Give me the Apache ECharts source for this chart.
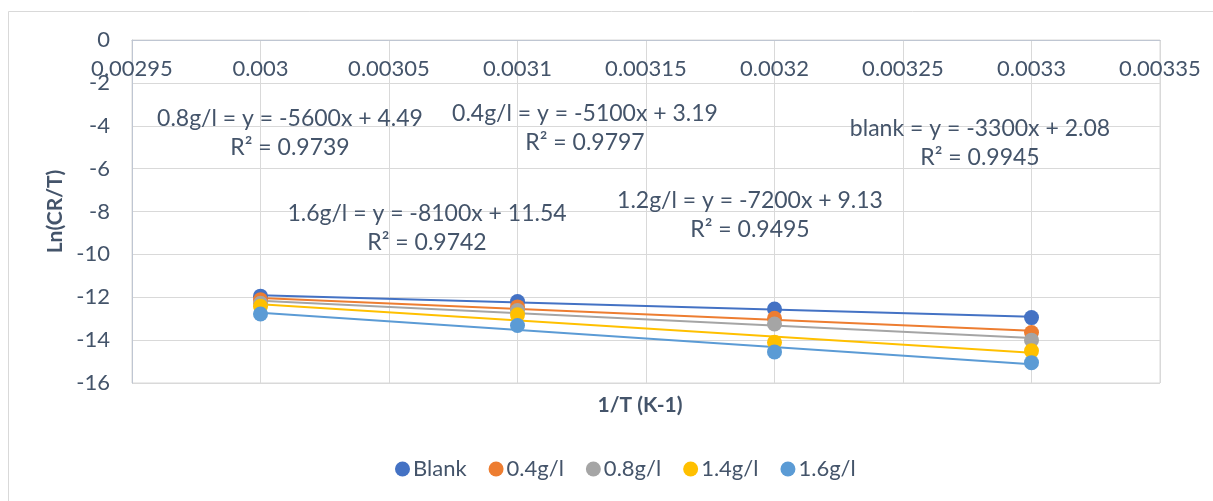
<!DOCTYPE html>
<html><head><meta charset="utf-8">
<script src="https://cdn.jsdelivr.net/npm/echarts@6/dist/echarts.min.js"></script>
<style>html,body{margin:0;padding:0;background:#fff}#c{width:1213px;height:501px}</style>
</head><body><div id="c"></div>
<script>
const xValues = [0.003, 0.0031, 0.0032, 0.0033];
const seriesNames = ['Blank', '0.4g/l', '0.8g/l', '1.4g/l', '1.6g/l'];
const blank = [-11.95, -12.2, -12.55, -12.95];
const g04 = [-12.12, -12.45, -12.98, -13.65];
const g08 = [-12.28, -12.62, -13.25, -14.0];
const g14 = [-12.42, -12.82, -14.1, -14.5];
const g16 = [-12.78, -13.32, -14.55, -15.05];
const seriesValues = [blank, g04, g08, g14, g16];
const colors = ['#4472C4', '#ED7D31', '#A5A5A5', '#FFC000', '#5B9BD5'];
const trendLabels = [
  ['0.8g/l = y = -5600x + 4.49', 'R² = 0.9739'],
  ['0.4g/l = y = -5100x + 3.19', 'R² = 0.9797'],
  ['blank = y = -3300x + 2.08', 'R² = 0.9945'],
  ['1.6g/l = y = -8100x + 11.54', 'R² = 0.9742'],
  ['1.2g/l = y = -7200x + 9.13', 'R² = 0.9495']
];
const labelPos = [[290, 133], [585, 128], [980, 143], [427, 228], [750, 215]];

const FONT = 'Lato';
const TXT = '#44546A';

function fit(xs, ys) {
  const n = xs.length;
  const mx = xs.reduce((a, b) => a + b, 0) / n;
  const my = ys.reduce((a, b) => a + b, 0) / n;
  let sxy = 0, sxx = 0;
  for (let i = 0; i < n; i++) { sxy += (xs[i] - mx) * (ys[i] - my); sxx += (xs[i] - mx) ** 2; }
  const b = sxy / sxx, a = my - b * mx;
  return [[xs[0], a + b * xs[0]], [xs[n - 1], a + b * xs[n - 1]]];
}

const series = [];
seriesNames.forEach((name, i) => {
  series.push({
    name: name, type: 'scatter', data: xValues.map((x, j) => [x, seriesValues[i][j]]),
    symbolSize: 15, color: colors[i], itemStyle: { color: colors[i], opacity: 1 }, z: 3
  });
});
seriesNames.forEach((name, i) => {
  series.push({
    name: name, type: 'line', data: fit(xValues, seriesValues[i]), color: colors[i],
    symbol: 'none', lineStyle: { color: colors[i], width: 2 }, itemStyle: { color: colors[i] }, z: 2, silent: true
  });
});

const graphics = [{
  type: 'rect', shape: { x: 8.5, y: 11.5, width: 1300, height: 600 },
  style: { fill: 'none', stroke: '#D9D9D9', lineWidth: 1 }, z: -10, silent: true
}, {
  type: 'text', x: 640, y: 405,
  style: { text: '1/T (K-1)', fill: TXT, font: 'bold 21px ' + FONT, align: 'center', verticalAlign: 'middle' }
}];
trendLabels.forEach((lines, i) => {
  graphics.push({
    type: 'text', x: labelPos[i][0], y: labelPos[i][1],
    style: { text: lines.join('\n'), fill: TXT, font: '23px ' + FONT, align: 'center', verticalAlign: 'middle', lineHeight: 29 },
    z: 10
  });
});

const chart = echarts.init(document.getElementById('c'));
chart.setOption({
  animation: false,
  backgroundColor: '#fff',
  grid: { left: 132, right: 53, top: 40, bottom: 118, show: true, borderColor: '#D9D9D9', borderWidth: 1 },
  xAxis: {
    type: 'value', position: 'top', min: 0.00295, max: 0.00335, interval: 0.00005,
    axisLine: { lineStyle: { color: '#BFC6D2', width: 1 } },
    axisTick: { show: false },
    axisLabel: { inside: true, color: TXT, fontSize: 22, fontFamily: FONT, margin: 18,
      formatter: v => String(parseFloat(v.toFixed(6))) },
    splitLine: { show: true, lineStyle: { color: '#D9D9D9' } }
  },
  yAxis: {
    type: 'value', min: -16, max: 0, interval: 2,
    axisLine: { show: true, lineStyle: { color: '#BFC6D2', width: 1 } },
    axisTick: { show: false },
    axisLabel: { color: TXT, fontSize: 22, fontFamily: FONT, margin: 22 },
    splitLine: { show: true, lineStyle: { color: '#D9D9D9' } },
    name: 'Ln(CR/T)', nameLocation: 'middle', nameGap: 64,
    nameTextStyle: { color: TXT, fontSize: 21, fontWeight: 'bold', fontFamily: FONT }
  },
  legend: {
    data: seriesNames, bottom: 16, left: 390, icon: 'circle', itemWidth: 15, itemHeight: 15,
    itemGap: 22, textStyle: { color: TXT, fontSize: 22, fontFamily: FONT, padding: [0, 0, 0, -2] }
  },
  graphic: graphics,
  series: series
});
</script></body></html>
